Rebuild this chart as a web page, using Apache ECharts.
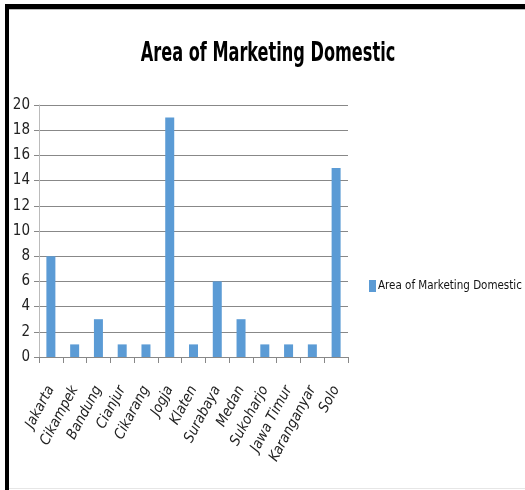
<!DOCTYPE html>
<html>
<head>
<meta charset="utf-8">
<script src="https://cdn.jsdelivr.net/npm/echarts@6/dist/echarts.min.js"></script>
<style>
html,body{margin:0;padding:0;background:#fff;}
#c{width:525px;height:490px;}
</style>
</head>
<body>
<div id="c"></div>
<script>
var categories = ['Jakarta','Cikampek','Bandung','Cianjur','Cikarang','Jogja','Klaten','Surabaya','Medan','Sukoharjo','Jawa Timur','Karanganyar','Solo'];
var values = [8,1,3,1,1,19,1,6,3,1,1,1,15];
var seriesName = 'Area of Marketing Domestic';
var titleText = 'Area of Marketing Domestic';

var fam = '"DejaVu Sans",sans-serif';
var chart = echarts.init(document.getElementById('c'), null, {renderer:'canvas'});
chart.setOption({
  animation:false,
  backgroundColor:'#fff',
  legend:{
    data:[seriesName], left:369, top:280, orient:'vertical', padding:0,
    itemWidth:7, itemHeight:12, itemGap:4,
    textStyle:{fontFamily:fam, fontWeight:'condensed normal', fontSize:11.5, color:'#111', padding:[0,0,0,-3]},
    icon:'rect'
  },
  grid:{left:39, right:177, top:105, bottom:133, containLabel:false},
  xAxis:{
    type:'category', data:categories, boundaryGap:true,
    axisLine:{lineStyle:{color:'#888', width:1}},
    axisTick:{show:true, length:6, interval:0, lineStyle:{color:'#888'}},
    axisLabel:{interval:0, rotate:62, margin:30, color:'#222', fontStyle:'italic', fontWeight:'condensed normal', fontSize:14.5, fontFamily:fam}
  },
  yAxis:{
    type:'value', min:0, max:20, interval:2,
    axisLine:{show:true, lineStyle:{color:'#bbb'}},
    axisTick:{show:true, length:5, lineStyle:{color:'#888'}},
    splitLine:{lineStyle:{color:'#888', width:1}},
    axisLabel:{color:'#222', fontSize:15, fontWeight:'condensed normal', fontFamily:fam, margin:9}
  },
  series:[{
    name:seriesName, type:'bar', data:values, barWidth:9,
    itemStyle:{color:'#5B9BD5'}
  }],
  graphic:[
    {type:'rect', shape:{x:5, y:4, width:525, height:5}, style:{fill:'#000'}},
    {type:'rect', shape:{x:5, y:4, width:4, height:490}, style:{fill:'#000'}},
    {type:'rect', shape:{x:9, y:9, width:525, height:1}, style:{fill:'#bbb'}},
    {type:'rect', shape:{x:9, y:488, width:525, height:1}, style:{fill:'#e6e6e6'}},
    {type:'text', x:268, y:54, scaleX:0.665, scaleY:1,
      style:{text:titleText, fill:'#000', font:'condensed bold 27px "DejaVu Sans",sans-serif', textAlign:'center', textVerticalAlign:'middle'}}
  ]
});
</script>
</body>
</html>
